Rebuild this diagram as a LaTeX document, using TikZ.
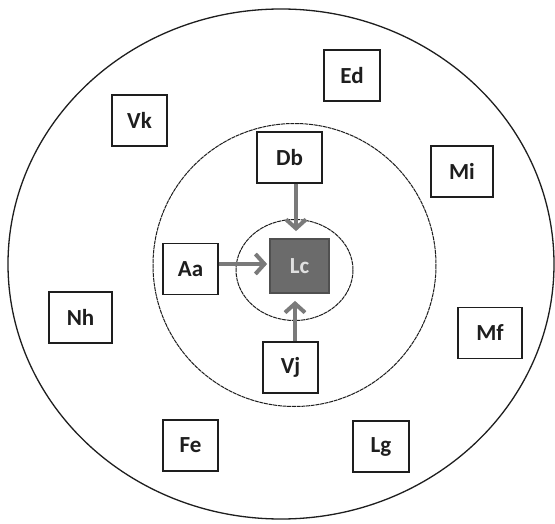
\documentclass[tikz,border=0pt]{standalone}
\usepackage{fontspec}
\setmainfont{Carlito}
\usetikzlibrary{arrows.meta}
\definecolor{lcfill}{HTML}{6B6B6B}
\definecolor{lcborder}{HTML}{505050}
\definecolor{arrowgray}{HTML}{7A7A7A}
\definecolor{inkgray}{HTML}{1E1E1E}
\begin{document}
\begin{tikzpicture}[x=1pt,y=-1pt,
  box/.style={draw=inkgray, line width=1.2pt, minimum height=51pt, minimum width=56pt,
    inner sep=0pt, font=\bfseries\fontsize{23}{23}\selectfont, text=inkgray, fill=white},
  ring/.style={draw=inkgray, line width=1pt},
  dashring/.style={ring, dash pattern=on 4pt off 0.7pt},
  conn/.style={draw=arrowgray, line width=4pt, -{Straight Barb[length=9pt,width=20pt]}}]
\useasboundingbox (0,0) rectangle (555,524);
\fill[white] (0,0) rectangle (555,524);
\draw[ring, line width=1.3pt] (281,264) ellipse [x radius=273, y radius=255];
\draw[dashring] (294.5,265) circle [radius=141.5];
\draw[dashring] (294.5,270) ellipse [x radius=58.5, y radius=50.5];

\node[box, minimum width=56pt] (Ed) at (352,75.5) {Ed};
\node[box, minimum width=55pt] (Vk) at (139.5,120.5) {Vk};
\node[box, minimum width=65pt] (Db) at (289.5,157.5) {Db};
\node[box, minimum width=62pt] (Mi) at (462,171.5) {Mi};
\node[box, minimum width=55pt] (Aa) at (190.5,269) {Aa};
\node[box, minimum width=59pt, minimum height=54pt, fill=lcfill, draw=lcborder, line width=1.8pt, text=white!88!black] (Lc) at (299.5,266) {Lc};
\node[box, minimum width=63pt] (Nh) at (80.5,317.5) {Nh};
\node[box, minimum width=64pt] (Mf) at (490,333) {Mf};
\node[box, minimum width=55pt] (Vj) at (290.5,367.5) {Vj};
\node[box, minimum width=55pt] (Fe) at (190.5,445.5) {Fe};
\node[box, minimum width=56pt] (Lg) at (381,446.5) {Lg};

\draw[conn, shorten >=7pt] ([xshift=6.5pt]Db.south) -- ([xshift=-3.5pt]Lc.north);
\draw[conn, shorten >=2pt] ([yshift=5pt]Aa.east) -- ([yshift=2pt]Lc.west);
\draw[conn, shorten >=7pt] ([xshift=4.5pt]Vj.north) -- ([xshift=-4.5pt]Lc.south);
\end{tikzpicture}
\end{document}
